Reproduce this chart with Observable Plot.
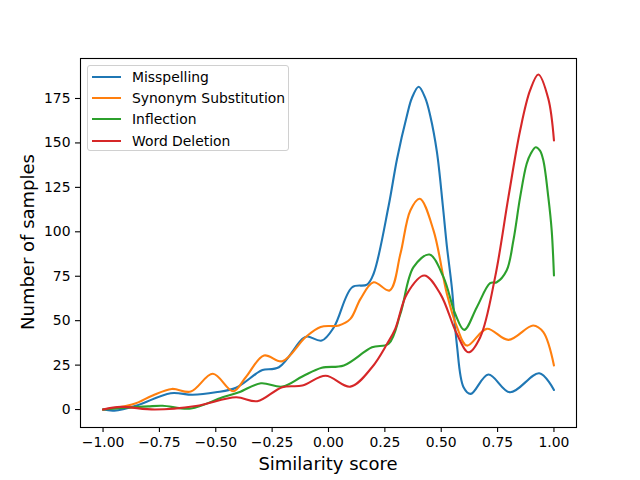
<!DOCTYPE html>
<html>
<head>
<meta charset="utf-8">
<script src="https://cdn.jsdelivr.net/npm/d3@7"></script>
<script src="https://cdn.jsdelivr.net/npm/@observablehq/plot@0.6"></script>
<style>
  html, body { margin: 0; padding: 0; background: #fff; }
  #wrap { position: relative; width: 640px; height: 480px; font-family: "DejaVu Sans", sans-serif; }
  #legend { position: absolute; left: 87px; top: 65px; width: 202px; height: 86px; border: 1px solid #d0d0d0; border-radius: 3px; background: rgba(255,255,255,0.8); box-sizing: border-box; }
  .row { position: absolute; left: 0; height: 20px; display: flex; align-items: center; font-size: 13.9px; color: #000; white-space: nowrap; }
  .sw { width: 29px; height: 2.1px; margin-left: 4px; margin-right: 11px; }
  .axlabel { position: absolute; font-size: 18px; color: #000; white-space: nowrap; line-height: 1; }
  #xlabel { left: 328px; top: 464px; transform: translate(-50%, -50%); }
  #ylabel { left: 28px; top: 242px; transform: translate(-50%, -50%) rotate(-90deg); }
</style>
</head>
<body>
<div id="wrap"></div>
<script>
const seriesNames = ["Misspelling", "Synonym Substitution", "Inflection", "Word Deletion"];
const seriesColors = ["#1f77b4", "#ff7f0e", "#2ca02c", "#d62728"];
const xTicks = [-1, -0.75, -0.5, -0.25, 0, 0.25, 0.5, 0.75, 1];
const yTicks = [0, 25, 50, 75, 100, 125, 150, 175];
const xLabel = "Similarity score";
const yLabel = "Number of samples";

const misspellingX = [-1.0, -0.95, -0.85, -0.70, -0.603, -0.5, -0.41, -0.323, -0.293, -0.22, -0.116, -0.094, -0.03, 0.024, 0.105, 0.171, 0.2, 0.267, 0.304, 0.348, 0.37, 0.4, 0.429, 0.451, 0.481, 0.507, 0.525, 0.547, 0.569, 0.599, 0.631, 0.709, 0.805, 0.935, 1.0];
const misspellingY = [0, -0.6, 2.3, 9.2, 8.3, 9.7, 12.3, 20, 22.3, 23.8, 39.8, 41.1, 38.8, 46.3, 68.8, 70.3, 76.4, 114.8, 141, 165.4, 175.3, 181.6, 175.3, 165.4, 144.8, 114.8, 92, 68.8, 37, 12.6, 8.8, 19.7, 9.7, 20.4, 11];

const synonymX = [-1.0, -0.9, -0.854, -0.78, -0.695, -0.611, -0.513, -0.423, -0.367, -0.286, -0.205, -0.102, -0.035, 0.046, 0.097, 0.142, 0.2, 0.271, 0.319, 0.363, 0.405, 0.466, 0.525, 0.57, 0.614, 0.702, 0.798, 0.908, 0.953, 1.0];
const synonymY = [0, 2, 3.5, 7.9, 11.6, 10.1, 20.1, 10.3, 18.2, 30.4, 27.2, 40.7, 46.5, 47.3, 51, 62.3, 71.6, 67, 87.6, 112, 118.6, 100.7, 65.1, 46.3, 36, 45.4, 39.2, 47.3, 43.5, 24.8];

const inflectionX = [-1.0, -0.9, -0.8, -0.736, -0.61, -0.47, -0.397, -0.30, -0.205, -0.116, -0.03, 0.068, 0.193, 0.267, 0.319, 0.377, 0.448, 0.51, 0.562, 0.602, 0.658, 0.717, 0.746, 0.79, 0.82, 0.85, 0.879, 0.898, 0.919, 0.938, 0.953, 0.975, 0.99, 1.0];
const inflectionY = [0, 1, 1.8, 2.1, 0.6, 6.9, 9.7, 14.8, 12.9, 18.6, 23.5, 24.8, 35, 37, 53.9, 80.1, 87.2, 74.5, 53.9, 44.8, 57.6, 71.1, 71.6, 78.2, 95.1, 119.5, 138.3, 144.2, 147.6, 145.7, 140.1, 119.5, 100.7, 75.4];

const deletionX = [-1.0, -0.92, -0.77, -0.588, -0.41, -0.316, -0.205, -0.116, -0.013, 0.097, 0.193, 0.26, 0.296, 0.348, 0.425, 0.496, 0.569, 0.621, 0.673, 0.739, 0.798, 0.85, 0.894, 0.931, 0.975, 1.0];
const deletionY = [0, 1.5, 0, 2, 6.9, 4.7, 12.6, 13.5, 19, 12.9, 23.8, 37, 45.4, 65.1, 75.4, 65.1, 42.6, 32.2, 40.7, 74.5, 119.5, 157, 179.5, 188.5, 174.8, 151.4];

const seriesX = [misspellingX, synonymX, inflectionX, deletionX];
const seriesY = [misspellingY, synonymY, inflectionY, deletionY];

const rows = [];
seriesNames.forEach((name, i) => {
  seriesX[i].forEach((x, j) => rows.push({series: name, x, y: seriesY[i][j]}));
});

const chart = Plot.plot({
  width: 640,
  height: 480,
  marginLeft: 80,
  marginRight: 64,
  marginTop: 58,
  marginBottom: 53,
  style: {fontFamily: "DejaVu Sans, sans-serif", fontSize: "13.9px", color: "#000", background: "#fff"},
  x: {domain: [-1.1, 1.1]},
  y: {domain: [-10.1, 197.5]},
  color: {domain: seriesNames, range: seriesColors},
  marks: [
    Plot.line(rows, {x: "x", y: "y", z: "series", stroke: "series", strokeWidth: 2.1, curve: "catmull-rom"}),
    Plot.frame({stroke: "#000", strokeWidth: 1.1}),
    Plot.axisX({ticks: xTicks, tickFormat: d3.format(".2f"), tickSize: 5, tickPadding: 5, fontSize: 13.9, label: null, stroke: "#000", strokeWidth: 1.1}),
    Plot.axisY({ticks: yTicks, tickFormat: d3.format("d"), tickSize: 5, tickPadding: 5, fontSize: 13.9, label: null, stroke: "#000", strokeWidth: 1.1})
  ]
});

const wrap = document.getElementById("wrap");
wrap.appendChild(chart);

const xl = document.createElement("div");
xl.className = "axlabel"; xl.id = "xlabel"; xl.textContent = xLabel;
wrap.appendChild(xl);
const yl = document.createElement("div");
yl.className = "axlabel"; yl.id = "ylabel"; yl.textContent = yLabel;
wrap.appendChild(yl);

const legend = document.createElement("div");
legend.id = "legend";
seriesNames.forEach((name, i) => {
  const row = document.createElement("div");
  row.className = "row";
  row.style.top = (1 + i * 21.2) + "px";
  const sw = document.createElement("div");
  sw.className = "sw";
  sw.style.background = seriesColors[i];
  const label = document.createElement("span");
  label.textContent = name;
  row.appendChild(sw);
  row.appendChild(label);
  legend.appendChild(row);
});
wrap.appendChild(legend);
</script>
</body>
</html>
